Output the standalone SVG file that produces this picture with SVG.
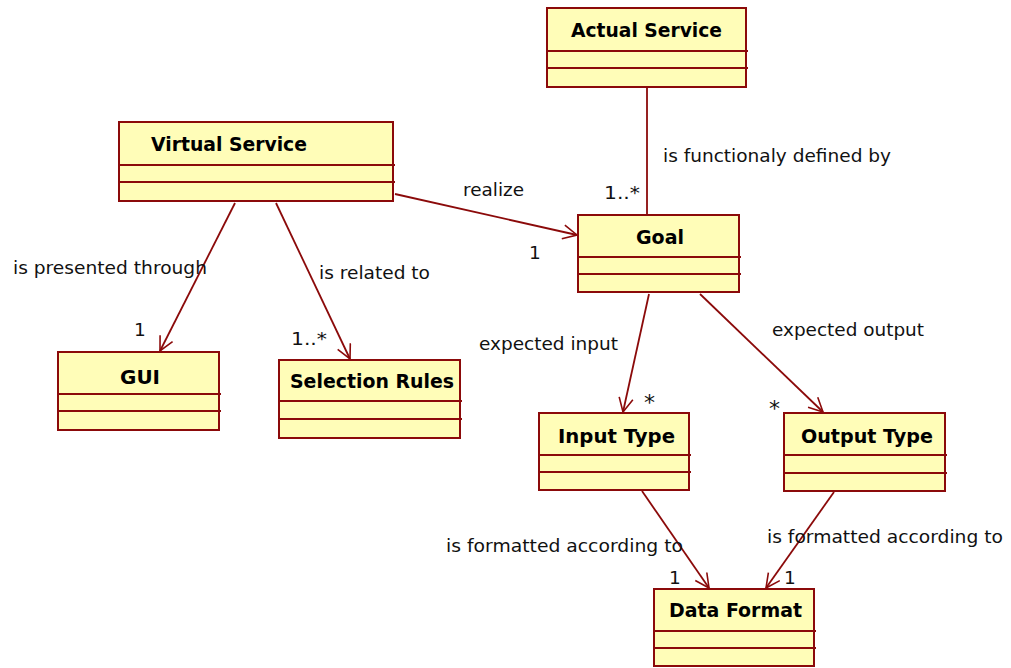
<svg xmlns="http://www.w3.org/2000/svg" width="1011" height="668" viewBox="0 0 1011 668">
<defs>
<marker id="arr" markerUnits="userSpaceOnUse" markerWidth="18" markerHeight="18" refX="15" refY="8" orient="auto">
<path d="M1,1 L15,8 L1,15" fill="none" stroke="#8B0A0A" stroke-width="1.6"/>
</marker>
<style>
.box{fill:#FFFDB8;stroke:#8B0A0A;stroke-width:2}
.div{stroke:#8B0A0A;stroke-width:2}
.t{font-family:"DejaVu Sans",Verdana,sans-serif;font-weight:bold;font-size:19px;fill:#000}
.l{font-family:"DejaVu Sans",Verdana,sans-serif;font-size:18.5px;fill:#111}
.s{font-family:"DejaVu Sans",Verdana,sans-serif;font-size:22px;fill:#111}
.c{stroke:#8B0A0A;stroke-width:1.8;fill:none}
</style>
</defs>
<rect width="1011" height="668" fill="#fff"/>
<g id="connectors">
<line class="c" x1="647" y1="88" x2="647" y2="214"/>
<line class="c" x1="395" y1="194" x2="577" y2="235" marker-end="url(#arr)"/>
<line class="c" x1="235" y1="203" x2="160" y2="351" marker-end="url(#arr)"/>
<line class="c" x1="276" y1="203" x2="350" y2="359" marker-end="url(#arr)"/>
<line class="c" x1="649" y1="294" x2="623" y2="412" marker-end="url(#arr)"/>
<line class="c" x1="700" y1="294" x2="823" y2="412" marker-end="url(#arr)"/>
<line class="c" x1="642" y1="491" x2="709" y2="588" marker-end="url(#arr)"/>
<line class="c" x1="834" y1="492" x2="766" y2="588" marker-end="url(#arr)"/>
</g>
<g id="labels">
<text class="l" x="663" y="162" textLength="228" lengthAdjust="spacingAndGlyphs">is functionaly defined by</text>
<text class="l" x="604" y="199" textLength="36" lengthAdjust="spacingAndGlyphs">1..*</text>
<text class="l" x="463" y="196" textLength="61" lengthAdjust="spacingAndGlyphs">realize</text>
<text class="l" x="529" y="259">1</text>
<text class="l" x="13" y="274" textLength="194" lengthAdjust="spacingAndGlyphs">is presented through</text>
<text class="l" x="319" y="279" textLength="111" lengthAdjust="spacingAndGlyphs">is related to</text>
<text class="l" x="134" y="336">1</text>
<text class="l" x="291" y="345" textLength="36" lengthAdjust="spacingAndGlyphs">1..*</text>
<text class="l" x="479" y="350" textLength="139" lengthAdjust="spacingAndGlyphs">expected input</text>
<text class="l" x="772" y="336" textLength="152" lengthAdjust="spacingAndGlyphs">expected output</text>
<text class="s" x="644" y="410">*</text>
<text class="s" x="769" y="416">*</text>
<text class="l" x="446" y="552" textLength="237" lengthAdjust="spacingAndGlyphs">is formatted according to</text>
<text class="l" x="767" y="543" textLength="236" lengthAdjust="spacingAndGlyphs">is formatted according to</text>
<text class="l" x="669" y="584">1</text>
<text class="l" x="784" y="584">1</text>
</g>
<g id="actual-service">
<rect class="box" x="547" y="8" width="199" height="79"/>
<line class="div" x1="547" y1="51" x2="748" y2="51"/>
<line class="div" x1="547" y1="68" x2="748" y2="68"/>
<text class="t" x="571" y="37" textLength="151" lengthAdjust="spacingAndGlyphs">Actual Service</text>
</g>
<g id="virtual-service">
<rect class="box" x="119" y="122" width="274" height="79"/>
<line class="div" x1="119" y1="165" x2="395" y2="165"/>
<line class="div" x1="119" y1="182" x2="395" y2="182"/>
<text class="t" x="151" y="151" textLength="156" lengthAdjust="spacingAndGlyphs">Virtual Service</text>
</g>
<g id="gui">
<rect class="box" x="58" y="352" width="161" height="78"/>
<line class="div" x1="58" y1="394" x2="221" y2="394"/>
<line class="div" x1="58" y1="411" x2="221" y2="411"/>
<text class="t" x="120" y="384" textLength="40" lengthAdjust="spacingAndGlyphs">GUI</text>
</g>
<g id="selection-rules">
<rect class="box" x="279" y="360" width="181" height="78"/>
<line class="div" x1="279" y1="401" x2="462" y2="401"/>
<line class="div" x1="279" y1="419" x2="462" y2="419"/>
<text class="t" x="290" y="388" textLength="164" lengthAdjust="spacingAndGlyphs">Selection Rules</text>
</g>
<g id="goal">
<rect class="box" x="578" y="215" width="161" height="77"/>
<line class="div" x1="578" y1="257" x2="741" y2="257"/>
<line class="div" x1="578" y1="274" x2="741" y2="274"/>
<text class="t" x="636" y="244" textLength="48" lengthAdjust="spacingAndGlyphs">Goal</text>
</g>
<g id="input-type">
<rect class="box" x="539" y="413" width="150" height="77"/>
<line class="div" x1="539" y1="455" x2="691" y2="455"/>
<line class="div" x1="539" y1="472" x2="691" y2="472"/>
<text class="t" x="558" y="443" textLength="117" lengthAdjust="spacingAndGlyphs">Input Type</text>
</g>
<g id="output-type">
<rect class="box" x="784" y="413" width="161" height="78"/>
<line class="div" x1="784" y1="455" x2="947" y2="455"/>
<line class="div" x1="784" y1="473" x2="947" y2="473"/>
<text class="t" x="801" y="443" textLength="132" lengthAdjust="spacingAndGlyphs">Output Type</text>
</g>
<g id="data-format">
<rect class="box" x="654" y="589" width="160" height="77"/>
<line class="div" x1="654" y1="631" x2="816" y2="631"/>
<line class="div" x1="654" y1="648" x2="816" y2="648"/>
<text class="t" x="669" y="617" textLength="133" lengthAdjust="spacingAndGlyphs">Data Format</text>
</g>
</svg>
